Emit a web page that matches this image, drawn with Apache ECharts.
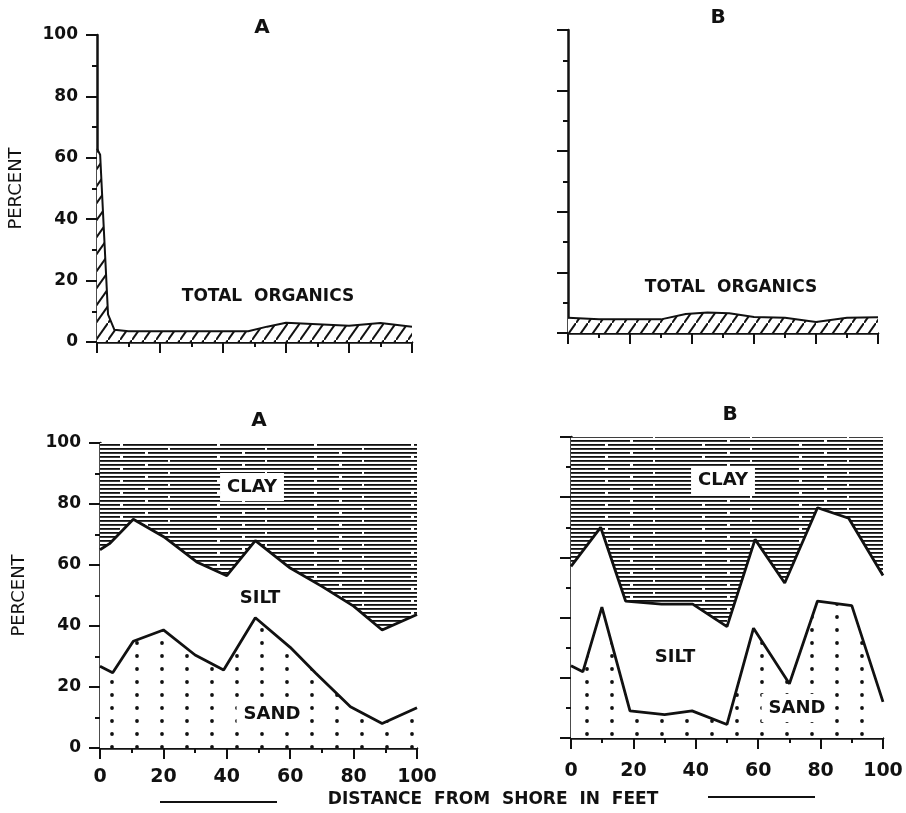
<!DOCTYPE html>
<html>
<head>
  <meta charset="utf-8">
  <title>Sediment composition with distance from shore</title>
  <script src="https://cdn.jsdelivr.net/npm/echarts@6/dist/echarts.min.js"></script>
  <style>
    html, body { margin: 0; padding: 0; background: #fff; }
    #chart { width: 906px; height: 813px; }
  </style>
</head>
<body>
  <div id="chart"></div>

  <script>
    // values: [distance from shore (ft), percent]
    const organicsA = [[0, 63], [1, 61], [3.5, 9], [5.5, 4], [10, 3.5], [20, 3.5], [30, 3.5], [40, 3.5],
      [48, 3.5], [54, 5], [60, 6.3], [70, 5.8], [80, 5.3], [90, 6.2], [100, 5]];
    const organicsB = [[0, 5], [10, 4.5], [20, 4.5], [30, 4.5], [38, 6.3], [45, 6.8], [52, 6.5],
      [60, 5.3], [70, 5], [80, 3.6], [90, 5], [100, 5.2]];

    // upper edge of silt (= sand + silt) and upper edge of sand
    const siltTopA = [[0, 65], [3, 67], [10.5, 75], [20.5, 69], [30.5, 61], [40, 56.5], [49, 68],
      [60, 59], [70, 53], [80, 46.5], [89, 38.7], [100, 43.8]];
    const sandTopA = [[0, 26.8], [4, 24.7], [10.5, 35], [20, 38.7], [30, 30.5], [39, 25.6], [49, 42.7],
      [60, 33], [68, 24.6], [79, 13.5], [89, 8], [100, 13.2]];
    const siltTopB = [[0, 57], [9.5, 70], [17.5, 45.5], [29, 44.5], [39, 44.5], [50, 37], [59, 66],
      [68.5, 51.5], [79, 76.5], [89, 73], [100, 54]];
    const sandTopB = [[0, 24], [3.8, 22], [9.9, 43.5], [18.9, 9], [30, 7.8], [38.8, 9], [50, 4.5],
      [58.5, 36.5], [70, 18], [79, 45.5], [90, 44], [100, 12]];
    // the clay layer closes the column at 100 percent
    const clayTop = [[0, 100], [100, 100]];

    const xTicks = ['0', '20', '40', '60', '80', '100'];
    const yTicks = ['0', '20', '40', '60', '80', '100'];

    const INK = '#111';
    const FONT = 'DejaVu Sans';

    function makePattern(w, h, draw) {
      const c = document.createElement('canvas');
      c.width = w;
      c.height = h;
      const ctx = c.getContext('2d');
      ctx.fillStyle = '#fff';
      ctx.fillRect(0, 0, w, h);
      draw(ctx, w, h);
      return { image: c, repeat: 'repeat' };
    }

    // horizontal ruling for clay, broken here and there like the print
    const clayFill = makePattern(97, 12, (ctx, w) => {
      ctx.fillStyle = INK;
      const gaps = [[23, 3], [71, 2], [48, 3]];
      gaps.forEach(([gx, gw], k) => {
        const y = k * 4;
        ctx.fillRect(0, y, gx, 1.8);
        ctx.fillRect(gx + gw, y, w - gx - gw, 1.8);
      });
    });
    // dot grid for sand
    const sandFill = makePattern(25, 13, ctx => {
      ctx.fillStyle = INK;
      ctx.beginPath();
      ctx.arc(12, 6, 1.9, 0, Math.PI * 2);
      ctx.fill();
    });
    // diagonal hatch for total organics
    const hatchFill = makePattern(12, 17, (ctx, w, h) => {
      ctx.strokeStyle = INK;
      ctx.lineWidth = 2;
      [[-w, h], [0, 0], [w, -h]].forEach(([dx, dy]) => {
        ctx.beginPath();
        ctx.moveTo(dx, h + dy);
        ctx.lineTo(w + dx, dy);
        ctx.stroke();
      });
    });

    const grids = [
      { left: 97, top: 35, width: 315, height: 307 },
      { left: 568, top: 30, width: 310, height: 303 },
      { left: 100, top: 443, width: 317, height: 305 },
      { left: 571, top: 437, width: 312, height: 301 }
    ];

    function xAxis(i, labels) {
      return {
        type: 'value', gridIndex: i, min: 0, max: 100, interval: 20,
        axisLine: { lineStyle: { color: INK, width: 2.5 } },
        axisTick: { length: 11, lineStyle: { color: INK, width: 2 } },
        minorTick: { show: true, splitNumber: 2, length: 5, lineStyle: { color: INK, width: 2 } },
        splitLine: { show: false },
        axisLabel: {
          show: labels, margin: i === 2 ? 20 : 24, color: INK,
          fontFamily: FONT, fontSize: 19, fontWeight: 'bold',
          formatter: v => xTicks[v / 20]
        }
      };
    }

    function yAxis(i, labels) {
      return {
        type: 'value', gridIndex: i, min: 0, max: 100, interval: 20,
        name: labels ? 'PERCENT' : '',
        nameLocation: 'middle', nameRotate: 90, nameGap: 72,
        nameTextStyle: { color: INK, fontFamily: FONT, fontSize: 18 },
        axisLine: { lineStyle: { color: INK, width: 2.5 } },
        axisTick: { length: 11, lineStyle: { color: INK, width: 2 } },
        minorTick: { show: true, splitNumber: 2, length: 5, lineStyle: { color: INK, width: 2 } },
        splitLine: { show: false },
        axisLabel: {
          show: labels, margin: 19, color: INK,
          fontFamily: FONT, fontSize: 17, fontWeight: 'bold',
          formatter: v => yTicks[v / 20]
        }
      };
    }

    function areaSeries(name, i, data, fill, lineW) {
      return {
        name, type: 'line', xAxisIndex: i, yAxisIndex: i, data,
        symbol: 'none', silent: true,
        lineStyle: { color: INK, width: lineW },
        areaStyle: { color: fill, opacity: 1 }
      };
    }

    function txt(text, x, y, size, box) {
      return {
        type: 'text', x, y, z: 100,
        style: {
          text, x: 0, y: 0, align: 'center', verticalAlign: 'middle',
          fill: INK, font: 'bold ' + size + 'px "' + FONT + '"',
          backgroundColor: box ? '#fff' : null,
          padding: box ? [5, 7] : 0
        }
      };
    }

    const chart = echarts.init(document.getElementById('chart'), null, { renderer: 'canvas' });
    chart.setOption({
      backgroundColor: '#fff',
      animation: false,
      grid: grids,
      xAxis: [xAxis(0, false), xAxis(1, false), xAxis(2, true), xAxis(3, true)],
      yAxis: [yAxis(0, true), yAxis(1, false), yAxis(2, true), yAxis(3, false)],
      series: [
        areaSeries('Total organics A', 0, organicsA, hatchFill, 2),
        areaSeries('Total organics B', 1, organicsB, hatchFill, 2),
        areaSeries('Clay A', 2, clayTop, clayFill, 0),
        areaSeries('Silt A', 2, siltTopA, '#fff', 2.8),
        areaSeries('Sand A', 2, sandTopA, sandFill, 2.8),
        areaSeries('Clay B', 3, clayTop, clayFill, 0),
        areaSeries('Silt B', 3, siltTopB, '#fff', 2.8),
        areaSeries('Sand B', 3, sandTopB, sandFill, 2.8)
      ],
      graphic: [
        txt('A', 262, 28, 20),
        txt('B', 718, 18, 20),
        txt('A', 259, 421, 20),
        txt('B', 730, 415, 20),
        txt('TOTAL  ORGANICS', 268, 297, 17),
        txt('TOTAL  ORGANICS', 731, 288, 17),
        txt('CLAY', 252, 487, 18, true),
        txt('SILT', 260, 598, 18),
        txt('SAND', 272, 714, 18, true),
        txt('CLAY', 723, 480, 18, true),
        txt('SILT', 675, 657, 18),
        txt('SAND', 797, 708, 18, true),
        txt('DISTANCE  FROM  SHORE  IN  FEET', 493, 800, 17),
        { type: 'line', shape: { x1: 160, y1: 802, x2: 277, y2: 802 }, style: { stroke: INK, lineWidth: 2 } },
        { type: 'line', shape: { x1: 708, y1: 797, x2: 815, y2: 797 }, style: { stroke: INK, lineWidth: 2 } }
      ]
    });
  </script>
</body>
</html>
